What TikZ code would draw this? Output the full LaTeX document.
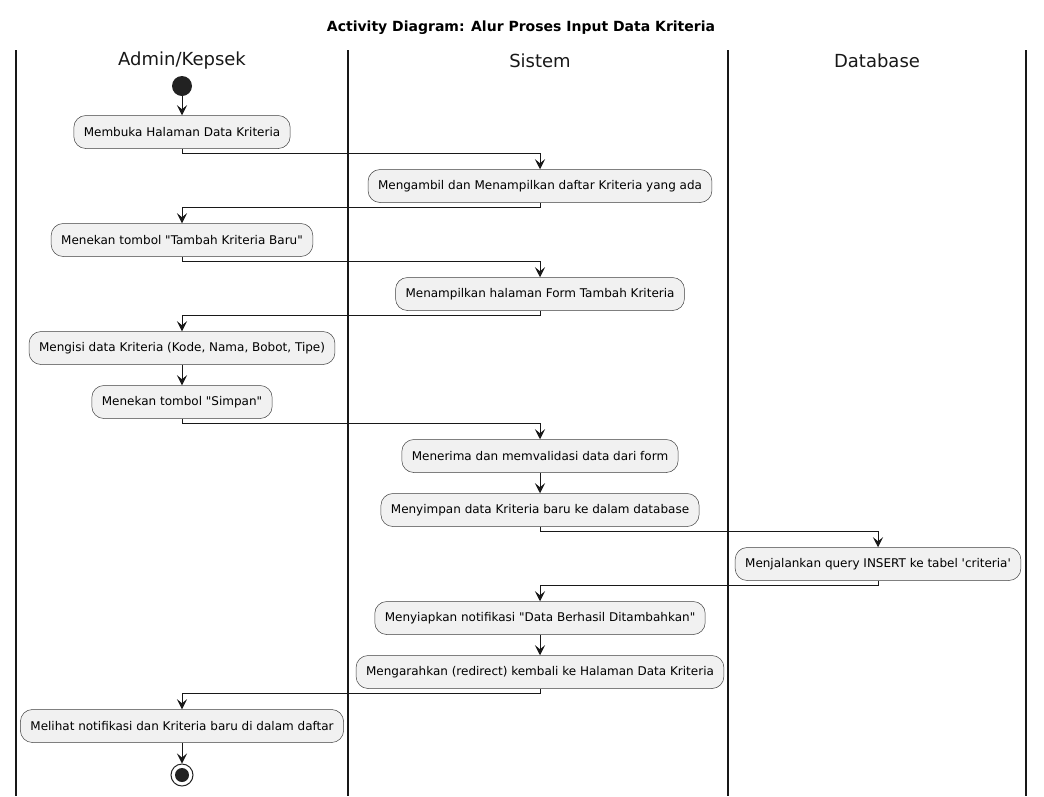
\documentclass[tikz,border=0pt]{standalone}
\usepackage{fontspec}
\setmainfont{DejaVu Sans}
\usetikzlibrary{arrows.meta}
\definecolor{actfill}{HTML}{F1F1F1}
\definecolor{actdraw}{HTML}{404040}
\definecolor{ink}{HTML}{181818}
\definecolor{dot}{HTML}{222222}
\begin{document}
\begin{tikzpicture}[x=1pt,y=-1pt,
  act/.style={draw=actdraw, fill=actfill, rounded corners=12pt, minimum height=33pt,
    inner xsep=10pt, font=\fontsize{12}{14}\selectfont, line width=0.5pt},
  flow/.style={draw=ink, line width=1pt, -{Stealth[length=10pt,width=10pt,inset=4pt]}},
  lane/.style={draw=ink, line width=1.5pt},
  hdr/.style={font=\fontsize{18}{20}\selectfont, text=ink},
  ttl/.style={font=\bfseries\fontsize{14}{16}\selectfont, text=black}]
\useasboundingbox (0,0) rectangle (1044,796);
\node[ttl] (title) at (521,28) {Activity Diagram: Alur Proses Input Data Kriteria};
\draw[lane] (16,50) -- (16,796);
\draw[lane] (348,50) -- (348,796);
\draw[lane] (728,50) -- (728,796);
\draw[lane] (1026,50) -- (1026,796);
\node[hdr] (h1) at (182,61) {Admin/Kepsek};
\node[hdr] (h2) at (540,61) {Sistem};
\node[hdr] (h3) at (877,61) {Database};

\node[circle, fill=dot, minimum size=20pt, inner sep=0pt] (st) at (182,86) {};
\node[act] (a1) at (182,132) {Membuka Halaman Data Kriteria};
\node[act] (s1) at (540,186) {Mengambil dan Menampilkan daftar Kriteria yang ada};
\node[act] (a2) at (182,240) {Menekan tombol \textquotedbl Tambah Kriteria Baru\textquotedbl};
\node[act] (s2) at (540,294) {Menampilkan halaman Form Tambah Kriteria};
\node[act] (a3) at (182,348) {Mengisi data Kriteria (Kode, Nama, Bobot, Tipe)};
\node[act] (a4) at (182,402) {Menekan tombol \textquotedbl Simpan\textquotedbl};
\node[act] (s3) at (540,456) {Menerima dan memvalidasi data dari form};
\node[act] (s4) at (540,510) {Menyimpan data Kriteria baru ke dalam database};
\node[act] (d1) at (878,564) {Menjalankan query INSERT ke tabel \textquotesingle criteria\textquotesingle};
\node[act] (s5) at (540,618) {Menyiapkan notifikasi \textquotedbl Data Berhasil Ditambahkan\textquotedbl};
\node[act] (s6) at (540,672) {Mengarahkan (redirect) kembali ke Halaman Data Kriteria};
\node[act] (a5) at (182,726) {Melihat notifikasi dan Kriteria baru di dalam daftar};
\node[circle, draw=dot, line width=1pt, minimum size=22pt, inner sep=0pt] (en) at (182,775) {};
\fill[dot] (en.center) circle (7pt);

\draw[flow] (st) -- (a1);
\draw[flow] (a1.south) -- ++(0,5) -| (s1.north);
\draw[flow] (s1.south) -- ++(0,5) -| (a2.north);
\draw[flow] (a2.south) -- ++(0,5) -| (s2.north);
\draw[flow] (s2.south) -- ++(0,5) -| (a3.north);
\draw[flow] (a3) -- (a4);
\draw[flow] (a4.south) -- ++(0,5) -| (s3.north);
\draw[flow] (s3) -- (s4);
\draw[flow] (s4.south) -- ++(0,5) -| (d1.north);
\draw[flow] (d1.south) -- ++(0,5) -| (s5.north);
\draw[flow] (s5) -- (s6);
\draw[flow] (s6.south) -- ++(0,5) -| (a5.north);
\draw[flow] (a5) -- (en);
\end{tikzpicture}
\end{document}
